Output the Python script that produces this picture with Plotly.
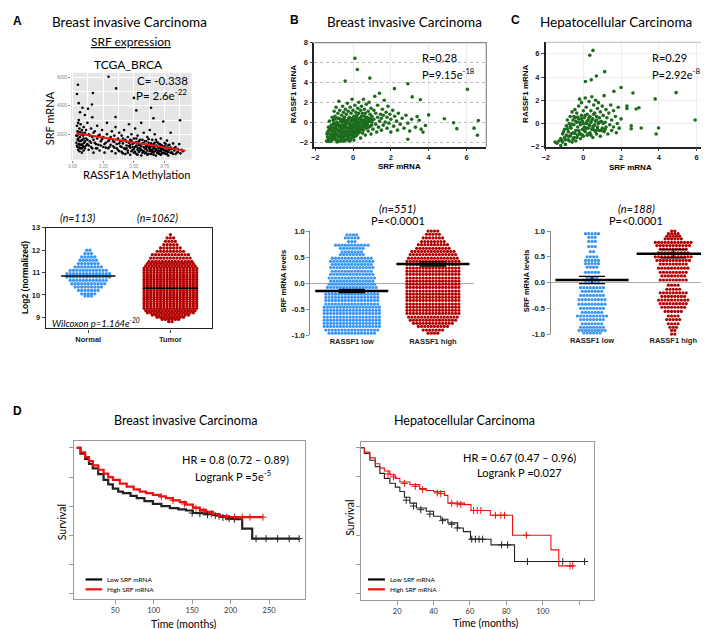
import plotly.graph_objects as go

W, H = 709, 629

# ---------------- data ----------------
# A: RASSF1A methylation vs SRF mRNA (TCGA_BRCA)
a_points = [
    (0.293, 6050), (0.043, 5490), (0.355, 5230), (0.165, 4910), (0.50, 4560), (0.035, 4840),
    (0.049, 4190), (0.08, 3870), (0.125, 3800), (0.157, 4100), (0.64, 3870), (0.52, 3680),
    (0.35, 3210), (0.877, 2980), (0.66, 3130), (0.06, 3550), (0.10, 3350),
    (0.03, 1900), (0.03, 1400), (0.035, 2600), (0.04, 1100), (0.04, 2200), (0.045, 1700),
    (0.045, 900), (0.05, 3000), (0.05, 2100), (0.05, 1300), (0.055, 2400), (0.055, 800),
    (0.06, 1800), (0.06, 1500), (0.065, 2700), (0.065, 1000), (0.07, 2000), (0.07, 1250),
    (0.075, 2300), (0.075, 700), (0.08, 1600), (0.085, 1900), (0.085, 1150), (0.09, 2500),
    (0.09, 850), (0.095, 1400), (0.1, 2100), (0.1, 1000), (0.04, 1600), (0.06, 2150),
    (0.11, 1700), (0.12, 2800), (0.12, 1300), (0.13, 900), (0.13, 2000), (0.14, 1500),
    (0.15, 2400), (0.15, 1100), (0.16, 3200), (0.16, 1800), (0.17, 700), (0.18, 1400),
    (0.18, 2200), (0.19, 1000), (0.2, 1700), (0.2, 2600), (0.21, 1250), (0.22, 850),
    (0.22, 1950), (0.23, 1500), (0.24, 2300), (0.25, 1100), (0.25, 1800), (0.26, 700),
    (0.27, 1400), (0.28, 2000), (0.28, 2800), (0.29, 1000), (0.3, 1600),
    (0.31, 1250), (0.32, 2200), (0.32, 800), (0.33, 1500), (0.34, 1900), (0.34, 1050),
    (0.35, 2500), (0.35, 650), (0.36, 1300), (0.37, 1700), (0.37, 900), (0.38, 2100),
    (0.39, 1150), (0.39, 1500), (0.4, 750), (0.4, 1900), (0.41, 1350), (0.42, 1000),
    (0.42, 2300), (0.43, 1600), (0.43, 600), (0.44, 1200), (0.45, 1800), (0.45, 850),
    (0.46, 1400), (0.46, 2700), (0.47, 1050), (0.47, 550), (0.48, 1550), (0.48, 2000),
    (0.49, 900), (0.49, 1300), (0.5, 700), (0.5, 1700),
    (0.51, 1100), (0.51, 2400), (0.52, 1450), (0.52, 600), (0.53, 900), (0.53, 1900),
    (0.54, 1250), (0.54, 750), (0.55, 1600), (0.55, 1000), (0.56, 2800), (0.56, 500),
    (0.57, 1350), (0.57, 850), (0.58, 1100), (0.58, 2100), (0.59, 650), (0.59, 1500),
    (0.6, 950), (0.6, 1250), (0.61, 1800), (0.61, 550), (0.62, 1050), (0.62, 1400),
    (0.63, 800), (0.63, 2300), (0.64, 1150), (0.64, 600), (0.65, 1600), (0.65, 900),
    (0.66, 1300), (0.66, 700), (0.67, 1000), (0.67, 2000), (0.68, 1200), (0.68, 500),
    (0.69, 850), (0.69, 1450), (0.7, 1050), (0.7, 650),
    (0.71, 1300), (0.71, 800), (0.72, 1700), (0.72, 550), (0.73, 1000), (0.73, 1200),
    (0.74, 700), (0.74, 2900), (0.75, 1400), (0.75, 900), (0.76, 600), (0.76, 1100),
    (0.77, 1550), (0.77, 800), (0.78, 1000), (0.78, 500), (0.79, 1250), (0.8, 700),
    (0.8, 2100), (0.81, 950), (0.82, 600), (0.82, 1350), (0.83, 850), (0.84, 1100),
    (0.85, 700), (0.86, 950), (0.87, 1300), (0.88, 650), (0.89, 900), (0.9, 800),
    (0.44, 1000), (0.52, 1200), (0.57, 700), (0.6, 1100), (0.63, 950), (0.66, 1150),
    (0.69, 700), (0.72, 950), (0.75, 650), (0.78, 1200), (0.55, 850), (0.47, 1250),
    (0.36, 1000), (0.38, 800), (0.38, 1350), (0.4, 1100), (0.41, 650), (0.41, 1700),
    (0.43, 950), (0.44, 1450), (0.45, 700), (0.46, 1150), (0.47, 1600), (0.48, 800),
    (0.49, 1100), (0.5, 1400), (0.5, 950), (0.51, 750), (0.52, 1700), (0.53, 1050),
    (0.53, 550), (0.54, 1500), (0.55, 1250), (0.56, 900), (0.56, 1150), (0.57, 1600),
    (0.58, 800), (0.58, 1350), (0.59, 1000), (0.6, 700), (0.6, 1500), (0.61, 1200),
    (0.61, 850), (0.62, 600), (0.62, 1650), (0.63, 1100), (0.64, 900), (0.64, 1350),
    (0.65, 750), (0.65, 1200), (0.66, 1000), (0.66, 550), (0.67, 1400), (0.67, 800),
    (0.68, 950), (0.68, 1600), (0.69, 1150), (0.7, 850), (0.7, 1350), (0.71, 600),
    (0.71, 1050), (0.72, 1250), (0.72, 800), (0.73, 650), (0.74, 1100), (0.74, 900),
    (0.75, 1150), (0.76, 800), (0.76, 1300), (0.77, 600), (0.77, 1000), (0.78, 750),
    (0.79, 900), (0.8, 1050), (0.81, 700), (0.83, 1000), (0.84, 600), (0.86, 750),
    (0.035, 1200), (0.04, 1900), (0.045, 2800), (0.05, 1550), (0.055, 1050), (0.06, 1250),
    (0.065, 2000), (0.07, 1550), (0.075, 1000), (0.08, 2100), (0.08, 1300), (0.09, 1700),
    (0.095, 1100), (0.1, 1500), (0.11, 1200), (0.11, 2300), (0.12, 1600), (0.13, 1200),
    (0.14, 1900), (0.15, 1400), (0.16, 1000), (0.17, 1600), (0.17, 2100), (0.19, 1300),
    (0.2, 1000), (0.21, 1900), (0.23, 1200), (0.24, 1650), (0.26, 1300), (0.27, 1050),
    (0.29, 1500), (0.3, 1100), (0.31, 1800), (0.33, 1150), (0.34, 1450),
]
a_fit_x = [0.03, 0.92]
a_fit_y = [2060, 830]

# A: log2 SRF, normal vs tumor (dot rows: level -> number of dots)
normal_levels = [12.0, 11.85, 11.7, 11.55, 11.4, 11.25, 11.1, 10.95, 10.8, 10.65, 10.5, 10.35, 10.2, 10.05, 9.95]
normal_counts = [2, 3, 5, 6, 7, 9, 12, 14, 14, 12, 11, 9, 7, 5, 3]
tumor_levels = [12.7, 12.55, 12.4, 12.25, 12.1, 11.95, 11.8, 11.65, 11.5, 11.4, 11.3, 11.2, 11.1, 11.0,
                10.9, 10.8, 10.7, 10.6, 10.5, 10.4, 10.3, 10.2, 10.1, 10.0, 9.9, 9.8, 9.7, 9.6, 9.5,
                9.4, 9.3, 9.2, 9.1, 9.0, 8.9, 8.8]
tumor_counts = [1, 3, 4, 5, 7, 9, 12, 13, 14, 15, 16, 17, 17, 17, 17, 17, 17, 17, 17, 17, 17, 17,
                17, 17, 17, 17, 17, 17, 17, 17, 16, 15, 12, 9, 6, 2]
normal_median = 10.85
tumor_median = 10.3

# B: breast, SRF vs RASSF1
b_points = [
    (0.1, 6.43), (0.23, 5.29), (-0.42, 4.13), (0.89, 4.43), (2.9, 3.86), (6.05, 3.3), (3.13, 2.54),
    (3.56, 2.25), (2.19, 3.37), (4.83, 0.34), (5.32, -0.06), (5.49, -0.65), (6.63, 0.17),
    (6.4, -0.6), (6.58, -1.32), (4.0, 0.73), (3.83, -0.33), (3.39, 0.56), (2.9, -1.71),
    (-1.4, -1.9), (-1.35, -1.5), (-1.35, -1.0), (-1.3, -0.5), (-1.3, -1.7), (-1.25, -1.2),
    (-1.25, 0.1), (-1.2, -0.8), (-1.2, -1.95), (-1.15, -0.3), (-1.15, -1.4), (-1.1, 0.5),
    (-1.1, -1.0), (-1.1, -1.8), (-1.05, -0.6), (-1.05, 0.2), (-1.0, -1.3), (-1.0, -0.1), (-1.0, 1.1),
    (-0.95, -1.7), (-0.95, -0.9), (-0.95, 0.6), (-0.9, -0.4), (-0.9, -1.2), (-0.9, 1.5),
    (-0.85, -2.0), (-0.85, 0.0), (-0.85, -0.7), (-0.8, 0.9), (-0.8, -1.5), (-0.8, -0.2),
    (-0.75, -1.0), (-0.75, 0.4), (-0.75, 2.1), (-0.7, -1.8), (-0.7, -0.5), (-0.7, 1.2),
    (-0.65, -1.3), (-0.65, 0.1), (-0.65, -0.8), (-0.6, 0.7), (-0.6, -1.6), (-0.6, -0.3),
    (-0.55, 1.6), (-0.55, -1.1), (-0.55, 0.3), (-0.5, -0.6), (-0.5, -1.9), (-0.5, 1.0),
    (-0.45, -1.4), (-0.45, 0.0), (-0.45, 0.5), (-0.4, -0.9), (-0.4, 1.3), (-0.4, -0.3),
    (-0.35, -1.7), (-0.35, 0.8), (-0.35, -0.6), (-0.3, 0.2), (-0.3, -1.2), (-0.3, 1.9),
    (-0.25, -0.1), (-0.25, -1.5), (-0.25, 1.1), (-0.2, -0.8), (-0.2, 0.5), (-0.2, -1.9),
    (-0.15, -0.4), (-0.15, 1.5), (-0.15, -1.1), (-0.1, 0.1), (-0.1, 0.9), (-0.1, -1.6),
    (-0.05, -0.7), (-0.05, 0.4), (-0.05, 2.3), (0.0, -1.3), (0.0, -0.2), (0.0, 1.2),
    (0.05, 0.6), (0.05, -0.9), (0.05, -1.8), (0.1, 0.0), (0.1, 1.7), (0.1, -0.5),
    (0.15, -1.4), (0.15, 1.0), (0.15, 0.3), (0.2, -0.8), (0.2, 0.7), (0.2, -0.1),
    (0.25, 1.4), (0.25, -1.2), (0.25, 0.2), (0.3, -0.5), (0.3, 2.0), (0.3, 0.9),
    (0.35, -1.0), (0.35, 0.4), (0.35, -0.2), (0.4, 1.2), (0.4, -1.6), (0.4, 0.0),
    (0.45, 0.6), (0.45, -0.7), (0.45, 1.6), (0.5, -0.3), (0.5, 0.9), (0.5, -1.1),
    (0.55, 0.2), (0.55, 2.3), (0.55, -0.8), (0.6, 1.3), (0.6, -0.1), (0.6, 0.6),
    (0.65, -1.3), (0.65, 0.9), (0.7, 0.1), (0.7, 1.8), (0.7, -0.6), (0.75, 0.5),
    (0.75, -0.2), (0.8, 1.1), (0.8, -0.9), (0.85, 0.3), (0.85, 2.0), (0.9, -0.4),
    (0.9, 0.8), (0.95, -1.2), (0.95, 1.4), (1.0, 0.0), (1.0, 0.6),
    (1.05, -0.7), (1.1, 1.2), (1.1, 0.3), (1.15, 2.6), (1.2, -0.2), (1.2, 0.9),
    (1.25, -1.0), (1.3, 0.5), (1.3, 1.7), (1.35, -0.5), (1.4, 0.1), (1.4, 2.9),
    (1.45, 0.8), (1.5, -0.8), (1.5, 0.4), (1.55, 1.3), (1.6, -0.3), (1.6, 0.7),
    (1.65, 2.2), (1.7, 0.0), (1.75, 1.0), (1.8, -0.6), (1.8, 0.5), (1.85, 1.6),
    (1.9, -0.1), (1.95, 0.8), (2.0, -1.0), (2.0, 0.3),
    (2.1, 1.2), (2.15, -0.4), (2.2, 0.6), (2.3, 0.1), (2.35, -0.8), (2.4, 0.9),
    (2.5, -0.2), (2.6, 0.4), (2.7, -0.6), (2.8, 0.7), (2.9, -0.1), (3.0, -0.9),
    (3.1, 0.3), (3.3, -0.5), (3.5, 0.2), (3.6, -0.7), (3.7, -1.0),
    (-1.38, -1.2), (-1.32, -1.95), (-1.28, -0.8), (-1.22, -1.6), (-1.18, -0.6), (-1.12, -1.2),
    (-1.08, -1.55), (-1.05, -0.25), (-1.02, -0.9), (-0.98, -1.5), (-0.98, 0.3), (-0.93, -1.1),
    (-0.92, -0.6), (-0.88, -1.8), (-0.88, -0.15), (-0.83, -1.3), (-0.82, 0.4), (-0.78, -0.85),
    (-0.78, -1.95), (-0.73, -0.3), (-0.72, -1.45), (-0.68, -1.0), (-0.67, 0.3), (-0.63, -1.9),
    (-0.62, -0.55), (-0.58, -1.35), (-0.57, 0.0), (-0.53, -0.9), (-0.52, -1.6), (-0.48, -0.35),
    (-0.47, 0.25), (-0.43, -1.1), (-0.42, -1.85), (-0.38, -0.45), (-0.37, -1.35), (-0.33, 0.0),
    (-0.32, -0.95), (-0.28, -1.75), (-0.27, -0.55), (-0.23, 0.3), (-0.22, -1.3), (-0.18, -0.2),
    (-0.17, -1.05), (-0.13, -1.8), (-0.12, -0.6), (-0.08, -1.3), (-0.07, -0.3), (-0.03, -1.0),
    (-0.02, 0.2), (0.02, -0.55), (0.03, -1.5), (0.07, -1.05), (0.08, 0.25), (0.12, -0.3),
    (0.13, -1.1), (0.17, -0.65), (0.18, 0.5), (0.22, -1.0), (0.23, -0.35), (0.27, 0.0),
    (0.28, -0.85), (0.33, -0.45), (0.38, -0.7), (0.42, 0.3), (0.48, -0.55), (0.52, 0.05),
    (0.58, -0.45), (0.62, 0.25), (0.68, -0.3), (0.72, 0.4), (0.78, 0.0), (0.82, -0.5),
    (0.88, 0.1), (0.92, 0.4), (0.98, -0.3), (1.02, 0.3),
]

# B: SRF levels by RASSF1 group (breast)
b_low_levels = [0.93, 0.87, 0.8, 0.73, 0.67, 0.6, 0.55, 0.48, 0.42, 0.36, 0.3, 0.23, 0.17, 0.1,
                0.04, -0.02, -0.08, -0.15, -0.21, -0.27, -0.33, -0.4, -0.46, -0.52, -0.58, -0.65,
                -0.71, -0.77, -0.83, -0.9, -0.96]
b_low_counts = [4, 5, 3, 11, 8, 7, 8, 13, 14, 13, 14, 13, 14, 15, 14, 15, 16, 17, 17, 17, 17, 17,
                18, 18, 18, 18, 18, 18, 18, 17, 15]
b_high_levels = [1.0, 0.94, 0.87, 0.8, 0.74, 0.67, 0.61, 0.55, 0.48, 0.42, 0.36, 0.29, 0.23, 0.17,
                 0.1, 0.04, -0.02, -0.08, -0.15, -0.21, -0.27, -0.33, -0.4, -0.46, -0.52, -0.58,
                 -0.65, -0.71, -0.77, -0.83, -0.9, -0.96]
b_high_counts = [4, 5, 7, 8, 10, 11, 14, 15, 16, 17, 17, 17, 17, 17, 17, 17, 17, 17, 17, 17, 17, 17,
                 17, 17, 17, 17, 16, 15, 13, 10, 7, 4]
b_means = [-0.15, 0.37]
b_sem = [0.03, 0.04]

# C: liver, SRF vs RASSF1
c_points = [
    (0.51, 6.3), (0.34, 5.88), (1.13, 4.47), (0.69, 4.1), (0.42, 3.76), (0.11, 3.62), (2.0, 3.1),
    (1.62, 2.77), (2.63, 2.63), (4.92, 2.66), (3.81, 2.12), (6.86, 1.27), (2.95, 1.36),
    (5.93, 0.31), (3.07, -0.39), (3.99, -0.39), (3.86, -0.9), (2.54, -0.2), (2.54, -0.45),
    (2.31, 1.3), (2.31, 1.5), (2.8, 1.25),
    (-1.5, -1.6), (-1.4, -1.7), (-1.3, -1.5), (-1.2, -1.9), (-1.2, -1.3), (-1.1, -1.6),
    (-1.1, -0.9), (-1.0, -1.2), (-1.0, -0.5), (-0.95, -1.8), (-0.9, -0.2), (-0.9, -1.0),
    (-0.85, 0.3), (-0.8, -1.4), (-0.8, -0.7), (-0.75, 0.0), (-0.7, -1.1), (-0.7, 0.6),
    (-0.65, -0.4), (-0.6, 1.0), (-0.6, -1.6), (-0.55, -0.8), (-0.55, 0.3), (-0.5, -0.1),
    (-0.5, -1.2), (-0.45, 1.2), (-0.45, 0.5), (-0.4, -0.6), (-0.4, -1.5), (-0.35, 0.1),
    (-0.35, 0.9), (-0.3, -0.3), (-0.3, -1.0), (-0.25, 1.5), (-0.25, 0.4), (-0.2, -0.8),
    (-0.2, 2.1), (-0.15, -0.1), (-0.15, -1.3), (-0.1, 0.7), (-0.1, 1.8), (-0.05, -0.5),
    (-0.05, 0.2), (0.0, 1.1), (0.0, -1.1), (0.05, -0.3), (0.05, 0.5), (0.1, 2.2),
    (0.1, -0.7), (0.15, 0.0), (0.15, 1.4), (0.2, -1.0), (0.2, 0.8), (0.25, -0.4),
    (0.25, 0.3), (0.3, 1.9), (0.3, -0.1), (0.35, 0.6), (0.35, -0.8), (0.4, 1.1),
    (0.4, 0.1), (0.45, -0.5), (0.45, 2.3), (0.5, 0.4), (0.5, -1.2),
    (0.55, 1.6), (0.55, -0.2), (0.6, 0.9), (0.6, -0.6), (0.65, 0.2), (0.65, 2.0),
    (0.7, -0.9), (0.7, 0.6), (0.75, 1.3), (0.75, -0.3), (0.8, 0.0), (0.8, 1.8),
    (0.85, -0.6), (0.85, 0.5), (0.9, 1.0), (0.9, -1.1), (0.95, 0.2), (1.0, -0.4),
    (1.0, 1.5), (1.05, 0.7), (1.1, -0.7), (1.1, 2.4), (1.15, 0.1), (1.2, 1.2),
    (1.2, -0.3), (1.25, 0.5), (1.3, -0.9), (1.35, 0.9), (1.4, -0.1), (1.45, 1.6),
    (1.5, 0.3), (1.5, -0.6), (1.6, 1.1), (1.6, -0.3), (1.7, 0.6), (1.75, -0.8),
    (1.8, 0.0), (1.85, 1.4), (1.9, -0.4), (2.0, 0.4),
    (-1.15, -1.45), (-1.05, -0.7), (-0.95, -1.4), (-0.85, -0.45), (-0.8, -1.1), (-0.75, -1.5),
    (-0.7, -0.25), (-0.65, -0.9), (-0.6, -0.05), (-0.55, -1.35), (-0.5, 0.6), (-0.45, -0.85),
    (-0.4, 0.2), (-0.35, -1.2), (-0.3, 0.55), (-0.25, -0.6), (-0.2, 0.1), (-0.15, -0.9),
    (-0.1, 0.4), (-0.05, -1.0), (0.0, 0.0), (0.05, -0.6), (0.1, 0.7), (0.15, -0.4),
    (0.2, 0.2), (0.25, -0.9), (0.3, 0.5), (0.35, -0.2), (0.4, -1.0), (0.45, 0.3),
    (0.5, -0.4), (0.55, 0.8), (0.6, -0.1), (0.65, -0.7), (0.7, 0.3), (0.75, -0.5),
    (0.85, 0.1), (0.95, -0.6), (1.05, 0.0), (1.15, -0.5),
]

# C: SRF levels by RASSF1 group (liver)
c_low_levels = [0.95, 0.88, 0.8, 0.7, 0.6, 0.5, 0.43, 0.37, 0.3, 0.2, 0.1, 0.0, -0.1, -0.17,
                -0.25, -0.33, -0.42, -0.5, -0.58, -0.65, -0.72, -0.8, -0.87, -0.93, -0.98]
c_low_counts = [5, 3, 3, 3, 2, 4, 5, 5, 4, 5, 4, 5, 8, 7, 8, 9, 9, 8, 7, 10, 8, 7, 8, 9, 6]
c_high_levels = [1.0, 0.95, 0.9, 0.85, 0.78, 0.72, 0.65, 0.58, 0.5, 0.43, 0.36, 0.28, 0.2, 0.13,
                 0.05, -0.05, -0.13, -0.2, -0.27, -0.34, -0.41, -0.48, -0.56, -0.65, -0.72, -0.8,
                 -0.87, -0.93, -1.0]
c_high_counts = [2, 4, 5, 6, 12, 11, 9, 10, 12, 11, 9, 10, 9, 8, 9, 4, 5, 9, 8, 10, 9, 8, 6, 4, 5, 4, 3, 2, 2]
c_means = [0.05, 0.56]
c_sem = [0.07, 0.08]

# D: Kaplan-Meier curves (months, survival)
brca_low_t = [0, 5, 11, 16, 21, 28, 35, 41, 47, 54, 60, 70, 78, 88, 99, 110, 121, 132, 142, 151,
              165, 177, 186, 194, 205, 215, 228, 289]
brca_low_s = [1.0, 0.96, 0.925, 0.89, 0.86, 0.82, 0.78, 0.75, 0.72, 0.70, 0.69, 0.67, 0.655,
              0.635, 0.615, 0.60, 0.587, 0.578, 0.57, 0.553, 0.545, 0.54, 0.53, 0.515, 0.51, 0.445,
              0.377, 0.377]
brca_high_t = [0, 5, 11, 16, 21, 28, 35, 41, 47, 56, 65, 74, 82, 90, 99, 108, 116, 125, 134, 142,
               151, 160, 168, 177, 185, 198, 242]
brca_high_s = [1.0, 0.97, 0.937, 0.91, 0.88, 0.85, 0.824, 0.80, 0.78, 0.755, 0.734, 0.715, 0.70,
               0.69, 0.677, 0.667, 0.655, 0.64, 0.628, 0.61, 0.59, 0.575, 0.56, 0.545, 0.53, 0.524,
               0.524]
brca_low_cens_t = [150, 160, 170, 180, 190, 198, 205, 233, 246, 261, 276, 289]
brca_low_cens_s = [0.553, 0.548, 0.542, 0.535, 0.522, 0.515, 0.51, 0.377, 0.377, 0.377, 0.377, 0.377]
brca_high_cens_t = [110, 125, 140, 155, 165, 175, 185, 195, 205, 215, 225, 242]
brca_high_cens_s = [0.665, 0.64, 0.615, 0.585, 0.565, 0.548, 0.53, 0.524, 0.524, 0.524, 0.524, 0.524]

lihc_low_t = [0, 2, 5, 8, 10.5, 13, 16, 19, 21.5, 24, 27, 30.6, 36, 40, 44, 47.9, 53.3, 56.4, 60.3,
              71.6, 84.5, 123.5]
lihc_low_s = [1.0, 0.96, 0.914, 0.87, 0.824, 0.79, 0.756, 0.73, 0.70, 0.66, 0.62, 0.587, 0.564,
              0.53, 0.51, 0.485, 0.45, 0.425, 0.373, 0.334, 0.22, 0.22]
lihc_high_t = [0, 2, 5, 8, 10.5, 13, 16, 19, 21.5, 27, 32.4, 36, 40, 46, 47.9, 57, 60.6, 71.2, 83.4,
               104.5, 108.8, 117]
lihc_high_s = [1.0, 0.97, 0.93, 0.89, 0.86, 0.84, 0.815, 0.79, 0.765, 0.747, 0.72, 0.707, 0.70,
               0.673, 0.62, 0.61, 0.57, 0.537, 0.40, 0.30, 0.19, 0.19]
lihc_low_cens_t = [25, 29, 33, 38, 45, 50, 53, 61, 63, 65, 67, 77.4, 80.7, 91.6, 111, 123]
lihc_low_cens_s = [0.64, 0.60, 0.575, 0.545, 0.50, 0.475, 0.45, 0.373, 0.373, 0.373, 0.373, 0.334,
                   0.334, 0.22, 0.22, 0.22]
lihc_high_cens_t = [15, 18, 24, 30, 34, 42, 44, 50, 53, 55, 62, 64, 66, 74, 77, 79, 91, 115, 116.5]
lihc_high_cens_s = [0.82, 0.80, 0.755, 0.735, 0.713, 0.69, 0.685, 0.62, 0.615, 0.61, 0.57, 0.57,
                    0.57, 0.537, 0.537, 0.537, 0.40, 0.19, 0.19]

# ---------------- helpers ----------------
BLUE = "#3a96f5"
DRED = "#b30000"
GREEN = "#1d6b1d"
ARIAL = "Liberation Sans"
CALIBRI = "Lato"


def dx(a, b):
    return [a / W, b / W]


def dy(top, bottom):
    return [1 - bottom / H, 1 - top / H]


def swarm(center, levels, counts, step):
    xs, ys = [], []
    for v, n in zip(levels, counts):
        for i in range(n):
            xs.append(center + (i - (n - 1) / 2) * step)
            ys.append(v)
    return xs, ys


annotations = []


def ann(text, px, py, size, family=CALIBRI, angle=0, xanchor="center", color="black", **kw):
    annotations.append(dict(text=text, x=px / W, y=1 - py / H, xref="paper", yref="paper",
                            showarrow=False, xanchor=xanchor, yanchor="middle", textangle=angle,
                            font=dict(family=family, size=size, color=color, **kw)))


fig = go.Figure()

# ---- A scatter ----
fig.add_trace(go.Scatter(x=[p[0] for p in a_points], y=[p[1] for p in a_points], mode="markers",
                         marker=dict(color="black", size=2.6), xaxis="x", yaxis="y"))
fig.add_trace(go.Scatter(x=a_fit_x, y=a_fit_y, mode="lines", line=dict(color="#e8161b", width=2),
                         xaxis="x", yaxis="y"))

# ---- A swarm ----
nx, ny = swarm(0, normal_levels, normal_counts, 0.04)
tx, ty = swarm(1, tumor_levels, tumor_counts, 0.04)
fig.add_trace(go.Scatter(x=nx, y=ny, mode="markers", marker=dict(color=BLUE, size=3.3),
                         xaxis="x2", yaxis="y2", cliponaxis=False))
fig.add_trace(go.Scatter(x=tx, y=ty, mode="markers", marker=dict(color=DRED, size=3.3),
                         xaxis="x2", yaxis="y2", cliponaxis=False))
for c, m in [(0, normal_median), (1, tumor_median)]:
    fig.add_trace(go.Scatter(x=[c - 0.33, c + 0.33], y=[m, m], mode="lines",
                             line=dict(color="black", width=1.5), xaxis="x2", yaxis="y2"))

# ---- B / C scatter ----
for pts, xa, ya in [(b_points, "x3", "y3"), (c_points, "x5", "y5")]:
    fig.add_trace(go.Scatter(x=[p[0] for p in pts], y=[p[1] for p in pts], mode="markers",
                             marker=dict(color=GREEN, size=3.6), xaxis=xa, yaxis=ya,
                             cliponaxis=False))

# ---- B / C swarms ----
for lows, lowc, highs, highc, means, sem, xa, ya in [
        (b_low_levels, b_low_counts, b_high_levels, b_high_counts, b_means, b_sem, "x4", "y4"),
        (c_low_levels, c_low_counts, c_high_levels, c_high_counts, c_means, c_sem, "x6", "y6")]:
    lx, ly = swarm(0, lows, lowc, 0.04)
    hx, hy = swarm(1, highs, highc, 0.04)
    fig.add_trace(go.Scatter(x=lx, y=ly, mode="markers", marker=dict(color=BLUE, size=3.2),
                             xaxis=xa, yaxis=ya, cliponaxis=False))
    fig.add_trace(go.Scatter(x=hx, y=hy, mode="markers", marker=dict(color=DRED, size=3.2),
                             xaxis=xa, yaxis=ya, cliponaxis=False))
    for c in (0, 1):
        fig.add_trace(go.Scatter(x=[c - 0.45, c + 0.45], y=[means[c]] * 2, mode="lines",
                                 line=dict(color="black", width=2.6), xaxis=xa, yaxis=ya))
        fig.add_trace(go.Scatter(x=[c], y=[means[c]], mode="markers", marker=dict(size=0.1, color="black"),
                                 error_y=dict(type="data", array=[sem[c]], color="black",
                                              thickness=1.3, width=13),
                                 xaxis=xa, yaxis=ya))

# ---- D: Kaplan-Meier ----
for (lt, ls, ht, hs, lct, lcs, hct, hcs, xa, ya, lw) in [
        (brca_low_t, brca_low_s, brca_high_t, brca_high_s, brca_low_cens_t, brca_low_cens_s,
         brca_high_cens_t, brca_high_cens_s, "x7", "y7", 2.2),
        (lihc_low_t, lihc_low_s, lihc_high_t, lihc_high_s, lihc_low_cens_t, lihc_low_cens_s,
         lihc_high_cens_t, lihc_high_cens_s, "x8", "y8", 1.1)]:
    fig.add_trace(go.Scatter(x=lt, y=ls, mode="lines", line=dict(color="#222", width=lw, shape="hv"),
                             xaxis=xa, yaxis=ya))
    fig.add_trace(go.Scatter(x=ht, y=hs, mode="lines", line=dict(color="#f01010", width=lw, shape="hv"),
                             xaxis=xa, yaxis=ya))
    fig.add_trace(go.Scatter(x=lct, y=lcs, mode="markers",
                             marker=dict(symbol="cross-thin", size=5, line=dict(color="#222", width=1)),
                             xaxis=xa, yaxis=ya))
    fig.add_trace(go.Scatter(x=hct, y=hcs, mode="markers",
                             marker=dict(symbol="cross-thin", size=5, line=dict(color="#f01010", width=1)),
                             xaxis=xa, yaxis=ya))

# ---------------- axes ----------------
tiny = dict(family=ARIAL, size=4.5, color="#888")
bold8 = dict(family=ARIAL, size=7.5, color="#222", weight="bold")
km_tick = dict(family=CALIBRI, size=7.5, color="#333")

layout_axes = dict(
    # A scatter (ggplot look)
    xaxis=dict(domain=dx(59.3, 180.7), range=[-0.014, 0.972], anchor="y",
               tickvals=[0, 0.25, 0.5, 0.75], ticktext=["0.00", "0.25", "0.50", "0.75"],
               tickfont=tiny, ticks="outside", ticklen=2, tickcolor="#888",
               showgrid=True, gridcolor="white", gridwidth=0.8,
               minor=dict(showgrid=True, gridcolor="white", gridwidth=0.4, dtick=0.125),
               zeroline=False),
    yaxis=dict(domain=dy(61.7, 150), range=[190, 6330], anchor="x",
               tickvals=[2000, 4000, 6000], tickfont=tiny, ticks="outside", ticklen=2,
               tickcolor="#888", showgrid=True, gridcolor="white", gridwidth=0.8,
               minor=dict(showgrid=True, gridcolor="white", gridwidth=0.4, tickvals=[1000, 3000, 5000]),
               zeroline=False),
    # A swarm
    xaxis2=dict(domain=dx(34, 201), range=[-0.517, 1.505], anchor="y2",
                tickvals=[0, 1], ticktext=["Normal", "Tumor"], tickfont=bold8,
                showline=True, mirror=True, linecolor="#222", linewidth=1.3,
                ticks="outside", ticklen=3, showgrid=False, zeroline=False),
    yaxis2=dict(domain=dy(219, 321), range=[8.5, 13], anchor="x2",
                tickvals=[9, 10, 11, 12, 13], tickfont=bold8,
                showline=True, mirror=True, linecolor="#222", linewidth=1.3,
                ticks="outside", ticklen=3, showgrid=False, zeroline=False),
    # B scatter
    xaxis3=dict(domain=dx(304, 477), range=[-2.05, 7.05], anchor="y3",
                tickvals=[-2, 0, 2, 4, 6], tickfont=bold8, showline=True, linecolor="#222",
                linewidth=1.5, ticks="outside", ticklen=3, showgrid=True, gridcolor="#ececec",
                zeroline=False),
    yaxis3=dict(domain=dy(31, 136.7), range=[-2.47, 8], anchor="x3",
                tickvals=[-2, 0, 2, 4, 6, 8], tickfont=bold8, showline=True, linecolor="#222",
                linewidth=1.5, ticks="outside", ticklen=3, showgrid=True, gridcolor="#bbb",
                griddash="dot", zeroline=False),
    # B swarm
    xaxis4=dict(domain=dx(300, 465), range=[-0.511, 1.511], anchor="y4",
                tickvals=[0, 1], ticktext=["RASSF1 low", "RASSF1 high"], tickfont=bold8,
                showline=False, ticks="", showgrid=False, zeroline=False),
    yaxis4=dict(domain=dy(222.3, 328), range=[-1, 1], anchor="x4",
                tickvals=[-1, -0.5, 0, 0.5, 1], ticktext=["-1.0", "-0.5", "0.0", "0.5", "1.0"],
                tickfont=bold8, showline=True, linecolor="#888", linewidth=1.2, ticks="outside",
                ticklen=3, tickcolor="#888", showgrid=False, zeroline=True, zerolinecolor="#aaa",
                zerolinewidth=1),
    # C scatter
    xaxis5=dict(domain=dx(536.7, 707.3), range=[-2, 7], anchor="y5",
                tickvals=[-2, 0, 2, 4, 6], tickfont=bold8, showline=True, linecolor="#222",
                linewidth=1.5, ticks="outside", ticklen=3, showgrid=True, gridcolor="#ededed",
                zeroline=False),
    yaxis5=dict(domain=dy(30.7, 136.7), range=[-2, 7], anchor="x5",
                tickvals=[-2, 0, 2, 4, 6], tickfont=bold8, showline=True, linecolor="#222",
                linewidth=1.5, ticks="outside", ticklen=3, showgrid=True, gridcolor="#ededed",
                zeroline=False),
    # C swarm
    xaxis6=dict(domain=dx(541.7, 705), range=[-0.509, 1.49], anchor="y6",
                tickvals=[0, 1], ticktext=["RASSF1 low", "RASSF1 high"], tickfont=bold8,
                showline=False, ticks="", showgrid=False, zeroline=False),
    yaxis6=dict(domain=dy(222.3, 326.7), range=[-1, 1], anchor="x6",
                tickvals=[-1, -0.5, 0, 0.5, 1], ticktext=["-1.0", "-0.5", "0.0", "0.5", "1.0"],
                tickfont=bold8, showline=True, linecolor="#888", linewidth=1.2, ticks="outside",
                ticklen=3, tickcolor="#888", showgrid=False, zeroline=True, zerolinecolor="#aaa",
                zerolinewidth=1),
    # D left
    xaxis7=dict(domain=dx(62.7, 295), range=[-3, 297], anchor="y7",
                tickvals=[50, 100, 150, 200, 250], tickfont=km_tick, showline=True, mirror=True,
                linecolor="#999", linewidth=1, ticks="outside", ticklen=4, tickcolor="#999",
                showgrid=False, zeroline=False),
    yaxis7=dict(domain=dy(435, 596), range=[-0.041, 1.049], anchor="x7",
                tickvals=[0, 0.2, 0.4, 0.6, 0.8, 1.0], showticklabels=False, showline=True,
                mirror=True, linecolor="#999", linewidth=1, ticks="outside", ticklen=4,
                tickcolor="#999", showgrid=False, zeroline=False),
    # D right
    xaxis8=dict(domain=dx(350.7, 585), range=[0, 128], anchor="y8",
                tickvals=[20, 40, 60, 80, 100, 120], ticktext=["20", "40", "60", "80", "100", " "],
                tickfont=km_tick, showline=True, mirror=True, linecolor="#999", linewidth=1,
                ticks="outside", ticklen=4, tickcolor="#999", showgrid=False, zeroline=False),
    yaxis8=dict(domain=dy(436.7, 596.7), range=[-0.045, 1.036], anchor="x8",
                tickvals=[0, 0.2, 0.4, 0.6, 0.8, 1.0], showticklabels=False, showline=True,
                mirror=True, linecolor="#999", linewidth=1, ticks="outside", ticklen=4,
                tickcolor="#999", showgrid=False, zeroline=False),
)

# ---------------- shapes ----------------
shapes = [
    # ggplot grey panel
    dict(type="rect", xref="paper", yref="paper", x0=59.3 / W, x1=180.7 / W,
         y0=1 - 150 / H, y1=1 - 61.7 / H, fillcolor="#e6e6e6", line=dict(width=0), layer="below"),
    # light frames on top/right of B and C scatters
    dict(type="path", xref="paper", yref="paper",
         path=f"M{304 / W},{1 - 31 / H} L{477 / W},{1 - 31 / H} L{477 / W},{1 - 136.7 / H}",
         line=dict(color="#888", width=1.2)),
    dict(type="path", xref="paper", yref="paper",
         path=f"M{536.7 / W},{1 - 30.7 / H} L{707.3 / W},{1 - 30.7 / H} L{707.3 / W},{1 - 136.7 / H}",
         line=dict(color="#bbb", width=1)),
]
# KM legends
for x0, x1 in [(74, 90.7), (358, 375)]:
    shapes.append(dict(type="line", xref="paper", yref="paper", x0=x0 / W, x1=x1 / W,
                       y0=1 - 575.7 / H, y1=1 - 575.7 / H, line=dict(color="black", width=2.2)))
    shapes.append(dict(type="line", xref="paper", yref="paper", x0=x0 / W, x1=x1 / W,
                       y0=1 - 585.7 / H, y1=1 - 585.7 / H, line=dict(color="#f01010", width=2.2)))

# ---------------- text ----------------
# panel A
ann("<b>A</b>", 6, 9, 12, family=ARIAL)
ann("Breast invasive Carcinoma", 118, 10, 13.5)
ann("<u>SRF expression</u>", 120, 30, 12)
ann("TCGA_BRCA", 117, 53, 12)
ann("C= -0.338", 151, 70, 11.5)
ann("P= 2.6e<sup>-22</sup>", 150, 84, 11.5)
ann("SRF mRNA", 38, 108, 11, angle=-90)
ann("RASSF1A Methylation", 125, 165, 11)
ann("<i>(n=113)</i>", 66.7, 209, 10.5)
ann("<i>(n=1062)</i>", 146.7, 209, 10.5)
ann("<b>Log2 (normalized)</b>", 13, 269, 8.5, family=ARIAL, angle=-90)
ann("<i>Wilcoxon p=1.164e<sup>-20</sup></i>", 38, 315, 9.5, xanchor="left")

# panel B
ann("<b>B</b>", 284, 8, 12, family=ARIAL)
ann("Breast invasive Carcinoma", 395, 10, 13.5)
ann("R=0.28", 410, 46, 11, xanchor="left")
ann("P=9.15e<sup>-18</sup>", 410, 62, 11, xanchor="left")
ann("<b>RASSF1 mRNA</b>", 283, 83, 8, family=ARIAL, angle=-90)
ann("<b>SRF mRNA</b>", 390, 157, 8, family=ARIAL)
ann("<i>(n=551)</i>", 388, 199, 11)
ann("P=<0.0001", 388, 212, 11)
ann("<b>SRF mRNA levels</b>", 273, 273, 7.5, family=ARIAL, angle=-90)

# panel C
ann("<b>C</b>", 506, 8, 12, family=ARIAL)
ann("Hepatocellular Carcinoma", 607, 10, 13.5)
ann("R=0.29", 642, 46, 11, xanchor="left")
ann("P=2.92e<sup>-8</sup>", 642, 62, 11, xanchor="left")
ann("<b>RASSF1 mRNA</b>", 517, 83, 8, family=ARIAL, angle=-90)
ann("<b>SRF mRNA</b>", 622, 158, 8, family=ARIAL)
ann("<i>(n=188)</i>", 628, 199, 11)
ann("P=<0.0001", 628, 212, 11)
ann("<b>SRF mRNA levels</b>", 517, 273, 7.5, family=ARIAL, angle=-90)

# panel D
ann("<b>D</b>", 6, 405, 12, family=ARIAL)
ann("Breast invasive Carcinoma", 174, 414, 12.5)
ann("Hepatocellular Carcinoma", 455, 414, 12.5)
ann("HR = 0.8 (0.72 \u2013 0.89)", 225, 454, 11)
ann("Logrank P =5e<sup>-5</sup>", 222, 470, 11)
ann("HR = 0.67 (0.47 \u2013 0.96)", 510, 452, 11)
ann("Logrank P =0.027", 510, 467, 11)
ann("Survival", 50, 518, 10.5, angle=-90)
ann("Survival", 340, 513, 10.5, angle=-90)
ann("Time (months)", 173, 621, 10.5)
ann("Time (months)", 477, 620, 10.5)
for x in (94, 378.3):
    ann("Low SRF mRNA", x, 575.7, 6.5, xanchor="left")
    ann("High SRF mRNA", x, 585.7, 6.5, xanchor="left")

fig.update_layout(
    width=W, height=H, margin=dict(l=0, r=0, t=0, b=0),
    paper_bgcolor="white", plot_bgcolor="rgba(0,0,0,0)",
    showlegend=False, annotations=annotations, shapes=shapes,
    font=dict(family=CALIBRI, color="black"),
    **layout_axes,
)

fig.write_html("out.html")
